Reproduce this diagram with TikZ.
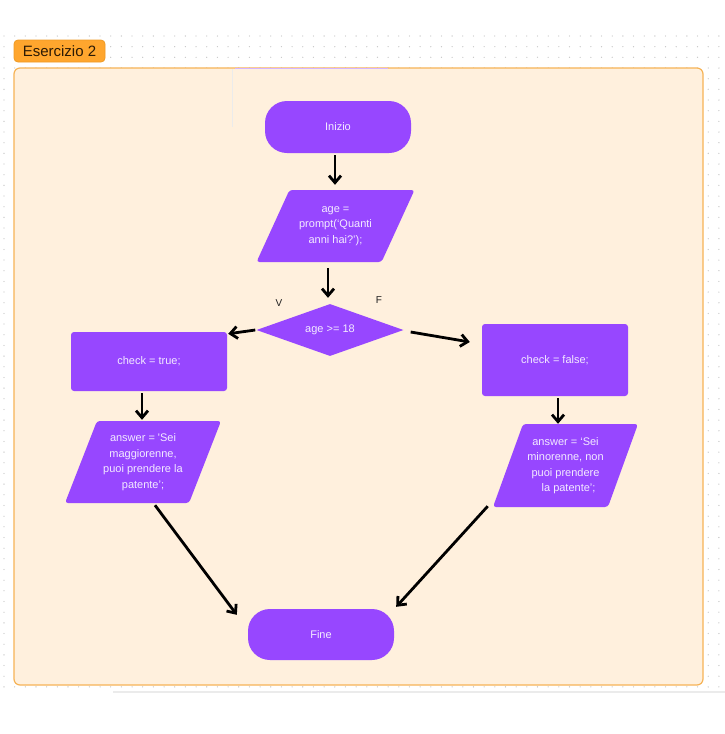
\documentclass[tikz,border=0pt]{standalone}
\usepackage{fontspec}
\setmainfont{Liberation Sans}
\usetikzlibrary{shapes.geometric,arrows.meta,calc}

\definecolor{flowpurple}{HTML}{9747FF}
\definecolor{flowtextcol}{HTML}{F3EAFF}
\definecolor{frameborder}{HTML}{F6B356}
\definecolor{framefill}{HTML}{FFF0DD}
\definecolor{tagfill}{HTML}{FFA62E}
\definecolor{tagborder}{HTML}{EE9A24}
\definecolor{tagtext}{HTML}{2B1A05}
\definecolor{gridgray}{HTML}{C6C6C6}
\definecolor{inktext}{HTML}{1E1E1E}

\tikzset{
  x=1pt, y=-1pt,
  flowtext/.style={text=flowtextcol, font=\fontsize{11}{15.5}\selectfont, align=center},
  terminal/.style={flowtext, fill=flowpurple, rounded corners=22pt,
    minimum width=146pt, minimum height=52pt, inner sep=0pt},
  process/.style={flowtext, fill=flowpurple, rounded corners=3pt, inner sep=0pt},
  io/.style={fill=flowpurple, trapezium, trapezium stretches body,
    rounded corners=3pt, inner xsep=0pt},
  decision/.style={flowtext, fill=flowpurple, diamond, aspect=2.83,
    minimum width=147pt, minimum height=52pt, inner sep=0pt},
  branch/.style={text=inktext, font=\fontsize{10}{12}\selectfont},
  flowarrow/.style={-{Straight Barb[length=7pt,width=12pt]}, line width=2.8pt, black},
  panel/.style={draw=frameborder, fill=framefill, line width=1.2pt, rounded corners=6pt,
    inner sep=0pt},
  tag/.style={draw=tagborder, fill=tagfill, line width=0.8pt, rounded corners=4pt,
    text=tagtext, font=\fontsize{15}{16}\selectfont, inner sep=0pt,
    minimum width=91pt, minimum height=22pt},
}

\begin{document}
\begin{tikzpicture}
  % canvas
  \fill[white] (0,0) rectangle (725,734);
  \useasboundingbox (0,0) rectangle (725,734);

  % dotted board grid
  \foreach \i in {0,...,67} {
    \foreach \j in {0,...,61} {
      \fill[gridgray] ({4+\i*10.67},{36+\j*10.67}) circle (0.65pt);
    }
  }

  % soft edge under the board
  \draw[line width=2pt, color=black!8] (113,692) -- (725,692);

  % section panel and its tag
  \node[panel, minimum width=689pt, minimum height=617pt] (board) at (358.5,376.5) {};
  \draw[line width=1pt, color=flowpurple!40] (235,68) -- (388,68);
  \draw[line width=0.5pt, color=black!8] (232,69) -- (232,127);
  \node[tag] (tag) at (59.5,51) {Esercizio 2};

  % flowchart nodes
  \node[terminal] (start) at (338,127) {Inizio};
  \node[io, inner ysep=36pt, minimum width=158pt,
        trapezium left angle=65.4, trapezium right angle=114.6,
        label={[flowtext]center:{age =\\prompt(`Quanti\\anni hai?’);}}] (ask) at (335.5,226) {};
  \node[decision] (cond) at (330,330) {age >= 18};
  \node[process, minimum width=156pt, minimum height=59pt] (ctrue) at (149,361.5) {check = true;};
  \node[process, minimum width=146pt, minimum height=72pt] (cfalse) at (555,360) {check = false;};
  \node[io, inner ysep=41pt, minimum width=156pt,
        trapezium left angle=68.7, trapezium right angle=111.3,
        label={[flowtext]center:{answer = \textquotesingle Sei\\maggiorenne,\\puoi prendere la\\patente’;}}] (ayes) at (143,462) {};
  \node[io, inner ysep=41.5pt, minimum width=145pt,
        trapezium left angle=70.1, trapezium right angle=109.9,
        label={[flowtext]center:{answer = `Sei\\minorenne, non\\puoi prendere\\\ \ la patente’;}}] (ano) at (565.5,465.5) {};
  \node[terminal, minimum height=51pt] (stop) at (321,634.5) {Fine};

  % branch labels
  \node[branch] (vlab) at (279,303) {V};
  \node[branch] (flab) at (379,300) {F};

  % connectors
  \draw[flowarrow] ($(start.south)+(-3,2)$) -- ($(ask.north)+(-0.5,-5)$);
  \draw[flowarrow] ($(ask.south)+(-7.5,6)$) -- ($(cond.north)+(-2,-6)$);
  \draw[flowarrow] ($(cond.west)+(-1,0)$) -- ($(ctrue.north east)+(1,2)$);
  \draw[flowarrow] ($(cond.east)+(7,2)$) -- ($(cfalse.west)+(-12,-18)$);
  \draw[flowarrow] ($(ctrue.south)+(-7,2)$) -- ($(ayes.north)+(-1,-1)$);
  \draw[flowarrow] ($(cfalse.south)+(3,2)$) -- ($(ano.north)+(-7.5,0)$);
  \draw[flowarrow] ($(ayes.south)+(12,2)$) -- ($(stop.north west)+(-11,6)$);
  \draw[flowarrow] ($(ano.bottom left corner)+(-5,-1)$) -- ($(stop.north east)+(2,-2)$);
\end{tikzpicture}
\end{document}
